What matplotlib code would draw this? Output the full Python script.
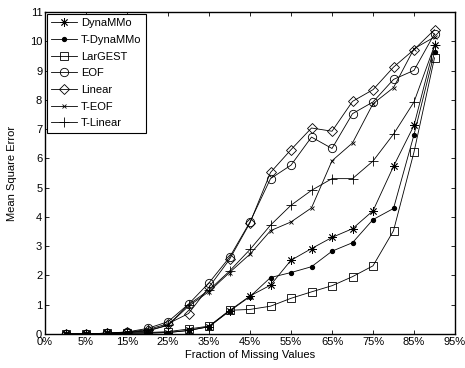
import matplotlib
matplotlib.use("Agg")
import matplotlib.pyplot as plt

plt.rcParams['font.family'] = ['Liberation Sans', 'DejaVu Sans']

# Fraction of missing values (%) for each data point
fraction = [0, 5, 10, 15, 20, 25, 30, 35, 40, 45, 50, 55, 60, 65, 70, 75, 80, 85, 90]

dynammo   = [0, 0, 0.02, 0.03, 0.03, 0.05, 0.12, 0.25, 0.80, 1.30, 1.67, 2.52, 2.92, 3.30, 3.60, 4.21, 5.73, 7.13, 9.86]
t_dynammo = [0, 0, 0.02, 0.03, 0.03, 0.05, 0.12, 0.25, 0.78, 1.28, 1.93, 2.10, 2.30, 2.83, 3.12, 3.91, 4.29, 6.81, 9.63]
largest   = [0, 0, 0.02, 0.03, 0.05, 0.08, 0.17, 0.27, 0.81, 0.84, 0.95, 1.22, 1.44, 1.65, 1.96, 2.33, 3.53, 6.22, 9.44]
eof       = [0, 0, 0.03, 0.07, 0.19, 0.42, 1.02, 1.75, 2.62, 3.83, 5.31, 5.77, 6.73, 6.34, 7.53, 7.93, 8.70, 9.01, 10.26]
linear    = [0, 0, 0.03, 0.06, 0.15, 0.35, 0.70, 1.60, 2.55, 3.80, 5.52, 6.30, 7.04, 6.93, 7.95, 8.35, 9.12, 9.72, 10.40]
t_eof     = [0, 0, 0.02, 0.05, 0.10, 0.30, 0.95, 1.45, 2.10, 2.73, 3.53, 3.83, 4.31, 5.92, 6.53, 7.87, 8.42, 9.75, 10.15]
t_linear  = [0, 0, 0.02, 0.05, 0.12, 0.30, 1.00, 1.50, 2.15, 2.89, 3.72, 4.40, 4.91, 5.31, 5.31, 5.91, 6.83, 7.93, 9.86]

xtick_pos = [-5, 5, 15, 25, 35, 45, 55, 65, 75, 85, 95]
xtick_labels = ['0%', '5%', '15%', '25%', '35%', '45%', '55%', '65%', '75%', '85%', '95%']
yticks = list(range(0, 12))

fig = plt.figure(figsize=(4.65, 3.68), dpi=100)
ax = fig.add_axes([0.0968, 0.0924, 0.8817, 0.8746])

lw = 0.6
mw = 0.6
ax.plot(fraction, dynammo, color='k', lw=lw, marker=(8, 2, 0), ms=6, mew=mw, label='DynaMMo')
ax.plot(fraction, t_dynammo, color='k', lw=lw, marker='o', ms=2.8, mfc='k', label='T-DynaMMo')
ax.plot(fraction, largest, color='k', lw=lw, marker='s', ms=5.5, mfc='none', mew=mw, label='LarGEST')
ax.plot(fraction, eof, color='k', lw=lw, marker='o', ms=6, mfc='none', mew=mw, label='EOF')
ax.plot(fraction, linear, color='k', lw=lw, marker='D', ms=5, mfc='none', mew=mw, label='Linear')
ax.plot(fraction, t_eof, color='k', lw=lw, marker='x', ms=3.5, mew=mw, label='T-EOF')
ax.plot(fraction, t_linear, color='k', lw=lw, marker='+', ms=7, mew=mw, label='T-Linear')

ax.set_xlim(-5, 95)
ax.set_ylim(0, 11)
ax.set_xticks(xtick_pos)
ax.set_xticklabels(xtick_labels)
ax.set_yticks(yticks)
ax.tick_params(direction='in', length=3, width=0.6, labelsize=8, top=True, right=True, pad=2)
for s in ax.spines.values():
    s.set_linewidth(1.0)

ax.set_xlabel('Fraction of Missing Values', fontsize=8, labelpad=2)
ax.set_ylabel('Mean Square Error', fontsize=8, labelpad=9)

leg = ax.legend(loc='upper left', fontsize=8, frameon=True, fancybox=False,
                edgecolor='k', framealpha=1, handlelength=2.3, borderaxespad=0.15,
                labelspacing=0.6, handletextpad=0.4, borderpad=0.4)
leg.get_frame().set_linewidth(0.8)

fig.savefig('out.png', dpi=100)
